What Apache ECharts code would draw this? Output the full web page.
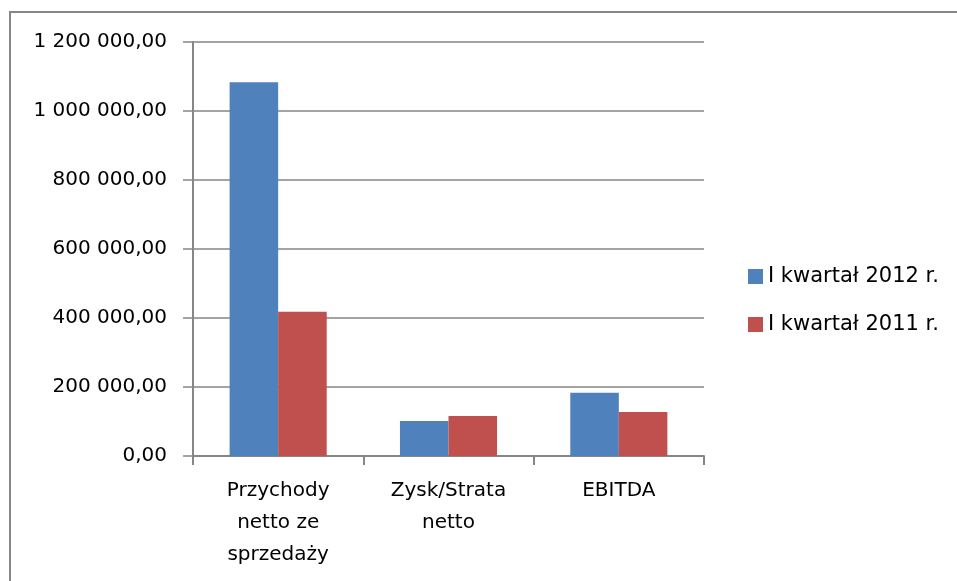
<!DOCTYPE html>
<html><head><meta charset="utf-8">
<script src="https://cdn.jsdelivr.net/npm/echarts@6/dist/echarts.min.js"></script>
<style>html,body{margin:0;padding:0;background:#fff}#c{width:957px;height:581px}</style>
</head><body><div id="c"></div>
<script>
const categories = ['Przychody\nnetto ze\nsprzedaży', 'Zysk/Strata\nnetto', 'EBITDA'];
const seriesNames = ['I kwartał 2012 r.', 'I kwartał 2011 r.'];
const values2012 = [1083000, 101500, 183000];
const values2011 = [418000, 116000, 127500];
const yMin = 0, yMax = 1200000, yStep = 200000;

function fmt(v) {
  const parts = v.toFixed(2).split('.');
  return parts[0].replace(/\B(?=(\d{3})+(?!\d))/g, ' ') + ',' + parts[1];
}
const font = 'DejaVu Sans';
const gray = '#868686';
const chart = echarts.init(document.getElementById('c'));
chart.setOption({
  animation: false,
  backgroundColor: '#fff',
  grid: { left: 193, right: 253, top: 42, bottom: 125 },
  legend: {
    orient: 'vertical', left: 743, top: 261, itemWidth: 15, itemHeight: 15, itemGap: 27,
    icon: 'rect',
    textStyle: { fontFamily: font, fontSize: 21, lineHeight: 21, color: '#000' },
    data: seriesNames
  },
  xAxis: {
    type: 'category', data: categories,
    axisLine: { lineStyle: { color: gray, width: 2 } },
    axisTick: { show: true, length: 9, lineStyle: { color: gray, width: 2 }, alignWithLabel: false },
    axisLabel: { fontFamily: font, fontSize: 20, color: '#000', lineHeight: 32, margin: 19, interval: 0 }
  },
  yAxis: {
    type: 'value', min: yMin, max: yMax, interval: yStep,
    axisLine: { show: true, lineStyle: { color: gray, width: 2 } },
    axisTick: { show: true, length: 10, lineStyle: { color: gray, width: 1.5 } },
    splitLine: { lineStyle: { color: gray, width: 1.5 } },
    axisLabel: { fontFamily: font, fontSize: 20, color: '#000', margin: 26, formatter: fmt }
  },
  series: [
    { name: seriesNames[0], type: 'bar', data: values2012, itemStyle: { color: '#4F81BD' }, barGap: '0%', barCategoryGap: '43%' },
    { name: seriesNames[1], type: 'bar', data: values2011, itemStyle: { color: '#C0504D' }, barGap: '0%', barCategoryGap: '43%' }
  ],
  graphic: [
    { type: 'line', shape: { x1: 9, y1: 12, x2: 957, y2: 12 }, style: { stroke: gray, lineWidth: 2 } },
    { type: 'line', shape: { x1: 10, y1: 12, x2: 10, y2: 581 }, style: { stroke: gray, lineWidth: 2 } }
  ]
});
</script></body></html>
